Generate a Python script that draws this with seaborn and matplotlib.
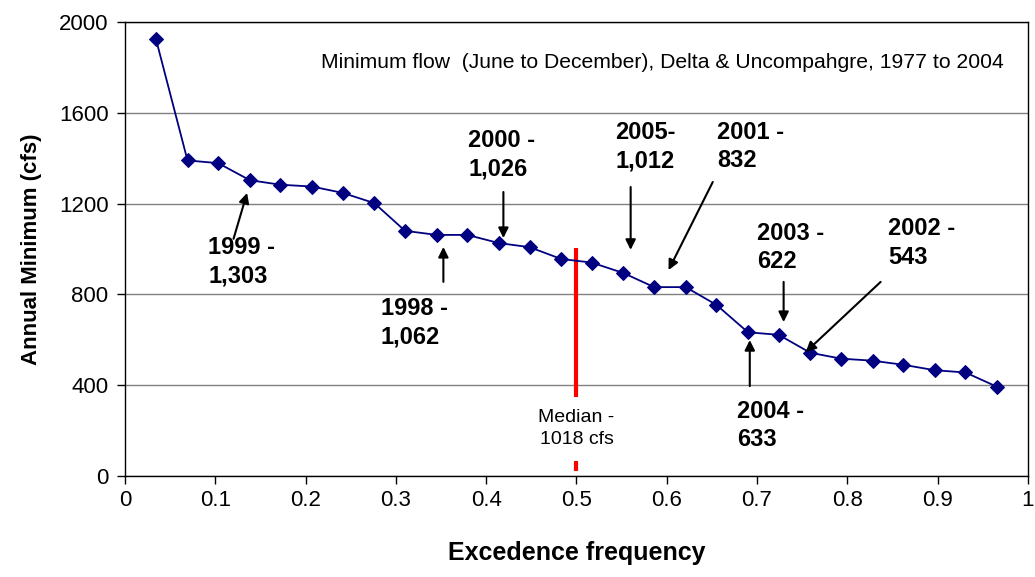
import matplotlib
matplotlib.use("Agg")
import matplotlib.pyplot as plt
import seaborn as sns
import pandas as pd

# Excedence frequency of each annual minimum (28 years, 1977-2004)
freq = [0.034, 0.069, 0.103, 0.138, 0.172, 0.207, 0.241, 0.276, 0.310, 0.345,
        0.379, 0.414, 0.448, 0.483, 0.517, 0.552, 0.586, 0.621, 0.655, 0.690,
        0.724, 0.759, 0.793, 0.828, 0.862, 0.897, 0.931, 0.966]
flow = [1925, 1390, 1378, 1303, 1283, 1275, 1247, 1202, 1080, 1062,
        1062, 1026, 1008, 956, 940, 894, 832, 832, 754, 633,
        622, 543, 517, 508, 490, 466, 456, 393]

median_flow = 1018
x_ticks = [0, 0.1, 0.2, 0.3, 0.4, 0.5, 0.6, 0.7, 0.8, 0.9, 1]
x_tick_labels = ["0", "0.1", "0.2", "0.3", "0.4", "0.5", "0.6", "0.7", "0.8", "0.9", "1"]
y_ticks = [0, 400, 800, 1200, 1600, 2000]

# label text, text position (left, top), arrow tail, arrow head
labels = ["1999 -\n1,303", "1998 -\n1,062", "2000 -\n1,026", "2005-\n1,012",
          "2001 -\n832", "2003 -\n622", "2002 -\n543", "2004 -\n633"]
label_pos = [(0.092, 1055), (0.283, 790), (0.380, 1530), (0.543, 1565),
             (0.656, 1565), (0.700, 1120), (0.845, 1140), (0.678, 335)]
arrow_tail = [(0.120, 1045), (0.3525, 855), (0.419, 1251), (0.560, 1273),
              (0.651, 1295), (0.7295, 855), (0.837, 855), (0.692, 396)]
arrow_head = [(0.135, 1247), (0.3525, 1009), (0.419, 1048), (0.560, 996),
              (0.602, 907), (0.7295, 678), (0.754, 546), (0.692, 599)]

df = pd.DataFrame({"freq": freq, "flow": flow})

sns.set_style("white")
plt.rcParams["font.family"] = ["Liberation Sans", "DejaVu Sans"]
plt.rcParams["text.color"] = "black"
plt.rcParams["axes.labelcolor"] = "black"
plt.rcParams["xtick.color"] = "black"
plt.rcParams["ytick.color"] = "black"

fig, ax = plt.subplots(figsize=(10.35, 5.77), dpi=100)
fig.subplots_adjust(left=0.121, right=0.993, top=0.962, bottom=0.175)

sns.lineplot(data=df, x="freq", y="flow", ax=ax, color="#000080", lw=1.3,
             marker="D", markersize=7, markeredgecolor="#000080", zorder=4)

# median line with its label sitting on top
ax.vlines(0.5, 20, 1005, color="red", lw=3, zorder=3)
ax.text(0.5, 208, "Median -\n1018 cfs", ha="center", va="center", fontsize=14,
        linespacing=1.4, zorder=5,
        bbox=dict(facecolor="white", edgecolor="none", pad=9))

for txt, (tx, ty), tail, head in zip(labels, label_pos, arrow_tail, arrow_head):
    ax.text(tx, ty, txt, ha="left", va="top", fontsize=17, fontweight="bold",
            linespacing=1.3, zorder=6)
    ax.annotate("", xy=head, xytext=tail,
                arrowprops=dict(arrowstyle="-|>", color="black", lw=1.5,
                                mutation_scale=15, shrinkA=0, shrinkB=0),
                zorder=6)

ax.text(0.973, 0.91, "Minimum flow  (June to December), Delta & Uncompahgre, 1977 to 2004",
        transform=ax.transAxes, ha="right", va="center", fontsize=15.2)

ax.set_xlim(0, 1)
ax.set_ylim(0, 2000)
ax.set_xticks(x_ticks)
ax.set_xticklabels(x_tick_labels)
ax.set_yticks(y_ticks)
ax.yaxis.grid(True, color="#808080", lw=1)
ax.set_axisbelow(True)
for s in ax.spines.values():
    s.set_color("black")
    s.set_linewidth(1)
ax.tick_params(axis="both", direction="out", length=6, width=1, labelsize=16,
               bottom=True, left=True)
ax.tick_params(axis="y", pad=6)
ax.tick_params(axis="x", pad=4)

ax.set_xlabel("Excedence frequency", fontsize=18, fontweight="bold", labelpad=22)
ax.set_ylabel("Annual Minimum (cfs)", fontsize=16, fontweight="bold", labelpad=12)

plt.savefig("out.png", dpi=100)
